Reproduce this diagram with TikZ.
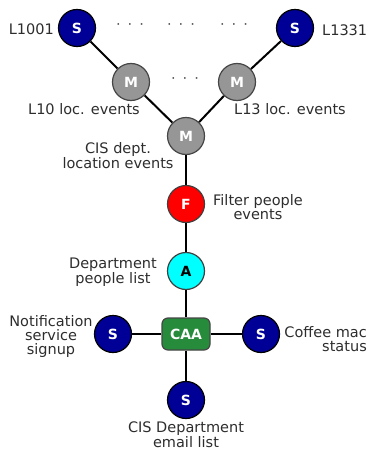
\documentclass[tikz,border=0pt]{standalone}
\usepackage{fontspec}
\setmainfont{DejaVu Sans}
\definecolor{txt}{RGB}{45,45,45}
\definecolor{srcblue}{RGB}{0,0,150}
\definecolor{mgray}{RGB}{150,150,150}
\definecolor{mborder}{RGB}{70,70,70}
\definecolor{caagreen}{RGB}{38,140,60}
\definecolor{aggcyan}{RGB}{0,255,255}
\definecolor{filtred}{RGB}{255,0,0}
\newcommand\dotrow{·\kern7pt·\kern7pt·}
\begin{document}
\begin{tikzpicture}[x=1pt,y=-1pt,
  basefont/.style={font=\fontsize{14.5}{14}\selectfont},
  opnode/.style={circle, minimum size=37pt, inner sep=0pt, line width=1.2pt,
    font=\fontsize{14}{14}\selectfont\bfseries},
  src/.style={opnode, fill=srcblue, draw=black, text=white},
  merge/.style={opnode, fill=mgray, draw=mborder, text=white},
  filt/.style={opnode, fill=filtred, draw=black!75, text=white},
  agg/.style={opnode, fill=aggcyan, draw=black!75, text=black},
  caabox/.style={rectangle, rounded corners=6pt, minimum width=48pt,
    minimum height=32pt, inner sep=0pt, fill=caagreen, draw=mborder,
    line width=1.2pt, text=white, font=\fontsize{14}{14}\selectfont\bfseries},
  link/.style={line width=2pt, black},
  lbl/.style={basefont, align=center, text=txt, inner sep=0pt},
  dots/.style={basefont, text=txt!80, inner sep=0pt}
]
\clip (0,0) rectangle (368,452);
\useasboundingbox (0,0) rectangle (368,452);

% operator nodes
\node[src]   (s1)  at (77,28)   {S};
\node[src]   (s2)  at (295,28)  {S};
\node[merge] (m1)  at (131,82)  {M};
\node[merge] (m2)  at (237,82)  {M};
\node[merge] (m0)  at (186,136) {M};
\node[filt]  (f)   at (186,204) {F};
\node[agg]   (a)   at (186,271) {A};
\node[caabox] (caa) at (186,334) {CAA};
\node[src]   (sl)  at (113,334) {S};
\node[src]   (sr)  at (261,334) {S};
\node[src]   (sb)  at (186,400) {S};

% connections
\draw[link] (s1) -- (m1);
\draw[link] (s2) -- (m2);
\draw[link] (m1) -- (m0);
\draw[link] (m2) -- (m0);
\draw[link] (m0) -- (f);
\draw[link] (f) -- (a);
\draw[link] (a) -- (caa);
\draw[link] (caa) -- (sl);
\draw[link] (caa) -- (sr);
\draw[link] (caa) -- (sb);

% elided sources and mergers
\node[dots] (d1) at (130,27) {\dotrow};
\node[dots] (d2) at (181,27) {\dotrow};
\node[dots] (d3) at (234,27) {\dotrow};
\node[dots] (d4) at (185,81) {\dotrow};

% labels
\node[lbl, anchor=east] (t1) at (54,29) {L1001};
\node[lbl, anchor=west] (t2) at (322,30) {L1331};
\node[lbl] (t3) at (84,109)  {L10 loc. events};
\node[lbl] (t4) at (290,109) {L13 loc. events};
\node[lbl] (t5) at (118,156) {CIS dept.\\location events};
\node[lbl] (t6) at (258,207) {Filter people\\events};
\node[lbl] (t7) at (113,272) {Department\\people list};
\node[lbl] (t8) at (51,336)  {Notification\\service\\signup};
\node[lbl, align=right, anchor=east] (t9) at (367,339) {Coffee mac\\status};
\node[lbl] (t10) at (186,435) {CIS Department\\email list};
\end{tikzpicture}
\end{document}
